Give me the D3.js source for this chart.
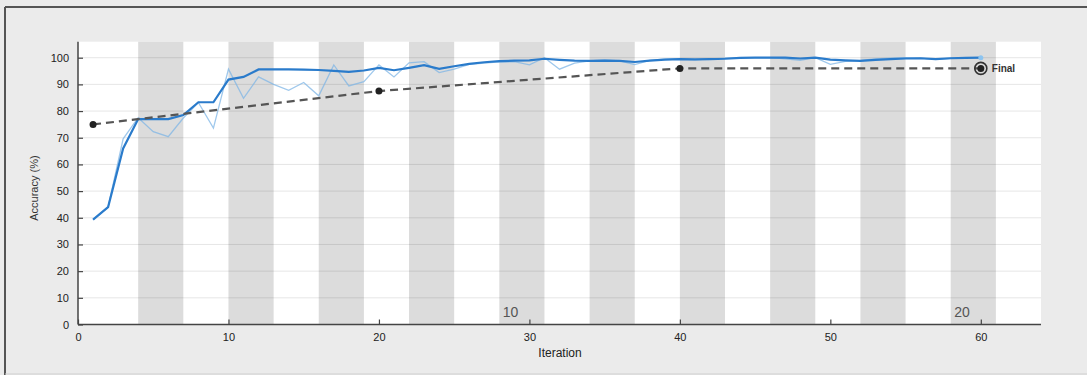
<!DOCTYPE html>
<html lang="en">
<head>
<meta charset="UTF-8">
<title>Training Progress</title>
<script src="https://d3js.org/d3.v7.min.js"></script>
<style>
    body { margin: 0; padding: 0; background: #ebebeb; font-family: 'Liberation Sans', Arial, sans-serif; }
    svg { display: block; }
</style>
</head>
<body>
<svg id="chart" width="1087" height="375"></svg>
<script>
// iterations 1..60
const iterations = d3.range(1, 61);
const smoothedAcc = [39.3, 44, 66, 77, 77, 77, 78.5, 83.3, 83.3, 91.8,
    92.8, 95.6, 95.6, 95.6, 95.5, 95.4, 95.1, 94.7, 95.2, 96.2,
    95.3, 96.2, 97.2, 95.8, 96.8, 97.7, 98.3, 98.7, 98.9, 99,
    99.6, 99.2, 98.9, 98.8, 98.9, 98.8, 98.4, 98.9, 99.3, 99.5,
    99.4, 99.5, 99.6, 99.9, 100, 100, 100, 99.7, 100, 99.3,
    99, 98.8, 99.2, 99.5, 99.7, 99.8, 99.5, 99.8, 99.9, 100];
const rawAcc = [39.3, 44, 69.6, 77.5, 72.3, 70.4, 77.4, 83.2, 73.6, 95.7,
    84.8, 92.8, 90, 87.8, 90.7, 85.7, 97.3, 89.4, 91, 97.3,
    92.8, 98.1, 98.5, 94.4, 95.7, 97.5, 98, 98.4, 98.5, 97.3,
    100, 95.7, 98, 98.8, 99.2, 98.8, 97.4, 99, 99.5, 99.6,
    99.2, 99.6, 99.8, 100, 100, 100, 99.6, 99, 100, 97.5,
    98.6, 99, 99.6, 99.8, 100, 99.8, 99.4, 99.8, 100, 100];
const valIter = [1, 20, 40, 60];
const valAcc = [75, 87.5, 96, 96];
const itersPerEpoch = 3;
const shadedEpochs = [2, 4, 6, 8, 10, 12, 14, 16, 18, 20];
const epochLabels = [10, 20];
const xTicks = [0, 10, 20, 30, 40, 50, 60];
const yTicks = d3.range(0, 101, 10);

const svg = d3.select("#chart");
const W = 1087, H = 375;

// window frame
svg.append("rect").attr("width", W).attr("height", H).attr("fill", "#ebebeb");
svg.append("line").attr("x1", 5).attr("x2", W).attr("y1", 7).attr("y2", 7)
    .attr("stroke", "#555").attr("stroke-width", 2);
svg.append("line").attr("x1", 5).attr("x2", 5).attr("y1", 7).attr("y2", H)
    .attr("stroke", "#555").attr("stroke-width", 2);
svg.append("line").attr("x1", 5).attr("x2", W).attr("y1", 374).attr("y2", 374)
    .attr("stroke", "#cfcfcf").attr("stroke-width", 1);

const x = d3.scaleLinear().domain([0, 64]).range([78, 1041]);
const y = d3.scaleLinear().domain([0, 106]).range([324.5, 41.7]);

// plot background
svg.append("rect")
    .attr("x", x(0)).attr("y", y(106))
    .attr("width", x(64) - x(0)).attr("height", y(0) - y(106))
    .attr("fill", "#fff");

// epoch shading
svg.append("g").selectAll("rect")
    .data(shadedEpochs)
    .join("rect")
    .attr("x", d => x((d - 1) * itersPerEpoch + 1))
    .attr("width", d => x(d * itersPerEpoch + 1) - x((d - 1) * itersPerEpoch + 1))
    .attr("y", y(106))
    .attr("height", y(0) - y(106))
    .attr("fill", "#dcdcdc");

// horizontal grid
svg.append("g").selectAll("line")
    .data(yTicks)
    .join("line")
    .attr("x1", x(0)).attr("x2", x(64))
    .attr("y1", d => y(d)).attr("y2", d => y(d))
    .attr("stroke", "#000").attr("stroke-opacity", 0.1);

// axes
const xAxis = svg.append("g")
    .attr("transform", `translate(0,${y(0)})`)
    .call(d3.axisBottom(x).tickValues(xTicks).tickSizeInner(-5).tickSizeOuter(0).tickPadding(9));
const yAxis = svg.append("g")
    .attr("transform", `translate(${x(0)},0)`)
    .call(d3.axisLeft(y).tickValues(yTicks).tickSizeInner(-5).tickSizeOuter(0).tickPadding(9));
[xAxis, yAxis].forEach(a => {
    a.select(".domain").attr("stroke", "#444").attr("stroke-width", 1.5);
    a.selectAll(".tick line").attr("stroke", "#444").attr("stroke-width", 1.2);
    a.selectAll(".tick text").attr("fill", "#222")
        .style("font-size", "11px").style("font-family", "'Liberation Sans', Arial, sans-serif");
});
// extend axis lines to full box
xAxis.select(".domain").attr("d", `M${x(0)},0H${x(64)}`);
yAxis.select(".domain").attr("d", `M0,${y(106)}V${y(0)}`);

// epoch labels
svg.append("g").selectAll("text")
    .data(epochLabels)
    .join("text")
    .attr("x", d => x(d * itersPerEpoch) - 11)
    .attr("y", y(0) - 8)
    .attr("text-anchor", "end")
    .attr("fill", "#555")
    .style("font-size", "14px")
    .text(d => d);

// axis titles
svg.append("text")
    .attr("x", 560).attr("y", 357)
    .attr("text-anchor", "middle")
    .attr("fill", "#222")
    .style("font-size", "12px")
    .text("Iteration");
svg.append("text")
    .attr("transform", `translate(38,${(y(0) + y(106)) / 2 + 5}) rotate(-90)`)
    .attr("text-anchor", "middle")
    .attr("fill", "#333")
    .style("font-size", "11px")
    .text("Accuracy (%)");

// training lines
const line = d3.line().x(d => x(d[0])).y(d => y(d[1]));
svg.append("path")
    .datum(iterations.map((it, i) => [it, rawAcc[i]]))
    .attr("d", line)
    .attr("fill", "none")
    .attr("stroke", "#7fb6e6")
    .attr("stroke-opacity", 0.75)
    .attr("stroke-width", 1.3);
svg.append("path")
    .datum(iterations.map((it, i) => [it, smoothedAcc[i]]))
    .attr("d", line)
    .attr("fill", "none")
    .attr("stroke", "#2a7bcb")
    .attr("stroke-width", 2.2);
svg.append("circle")
    .attr("cx", x(60)).attr("cy", y(rawAcc[59]))
    .attr("r", 2.5).attr("fill", "#8cc4f0");

// validation
const valPts = valIter.map((it, i) => [it, valAcc[i]]);
svg.append("path")
    .datum(valPts)
    .attr("d", line)
    .attr("fill", "none")
    .attr("stroke", "#555")
    .attr("stroke-width", 2.2)
    .attr("stroke-dasharray", "8,5");
svg.append("g").selectAll("circle")
    .data(valPts)
    .join("circle")
    .attr("cx", d => x(d[0])).attr("cy", d => y(d[1]))
    .attr("r", 3.5).attr("fill", "#222");

// final marker
const last = valPts[valPts.length - 1];
svg.append("circle")
    .attr("cx", x(last[0])).attr("cy", y(last[1]))
    .attr("r", 6).attr("fill", "none")
    .attr("stroke", "#333").attr("stroke-width", 1.6);
svg.append("text")
    .attr("x", x(last[0]) + 11).attr("y", y(last[1]) + 4)
    .attr("fill", "#333")
    .style("font-size", "10px")
    .style("font-weight", "600")
    .text("Final");
</script>
</body>
</html>
